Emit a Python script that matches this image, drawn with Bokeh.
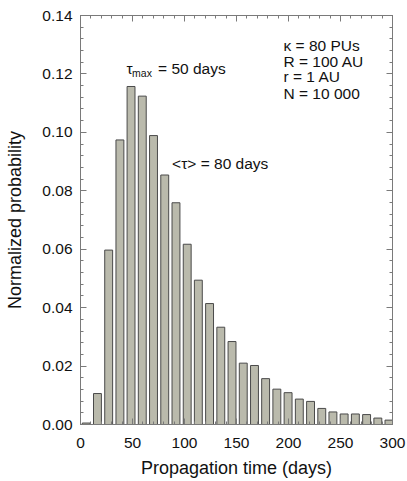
from bokeh.plotting import figure
from bokeh.models import (Range1d, LinearAxis, SingleIntervalTicker, PrintfTickFormatter,
                          Label, ColumnDataSource, CustomLabelingPolicy)
from bokeh.embed import file_html
from bokeh.resources import INLINE

# Histogram of propagation times (28 bins over 0-300 days)
bin_centers = [5.5, 16.3, 27.1, 37.9, 48.6, 59.4, 70.2, 81.0, 91.8, 102.6,
               113.3, 124.1, 134.9, 145.7, 156.5, 167.3, 178.0, 188.8, 199.6, 210.4,
               221.2, 232.0, 242.7, 253.5, 264.3, 275.1, 285.9, 296.6]
probability = [0.0005, 0.0106, 0.0597, 0.0974, 0.1157, 0.1124, 0.0989, 0.0854, 0.0759, 0.0617,
               0.0494, 0.0414, 0.0333, 0.0284, 0.0210, 0.0202, 0.0157, 0.0121, 0.0109, 0.0087,
               0.0079, 0.0055, 0.0043, 0.0036, 0.0036, 0.0034, 0.0022, 0.0015]

x_ticks_interval = 50
y_ticks_interval = 0.02
params_lines = ["\u03ba = 80 PUs", "R = 100 AU", "r = 1 AU", "N = 10 000"]

FONT = "Liberation Sans"
TICK_SIZE = "15.5px"
TITLE_SIZE = "18px"
AXIS_GRAY = "#7a7a7a"
TEXT_COLOR = "#111111"

p = figure(width=407, height=481, output_backend="svg", toolbar_location=None,
           x_range=Range1d(0, 300), y_range=Range1d(0, 0.14),
           min_border_left=80, min_border_right=15, min_border_top=15, min_border_bottom=57,
           x_axis_location=None, y_axis_location=None)
p.grid.visible = False
p.outline_line_color = AXIS_GRAY
p.background_fill_color = "white"
p.border_fill_color = "white"

src = ColumnDataSource(dict(x=bin_centers, top=probability))
p.vbar(x="x", top="top", width=7.6, bottom=0, source=src,
       fill_color="#babaac", line_color="#4a4a4a", line_width=1)


def style_axis(ax, labelled):
    ax.axis_line_color = AXIS_GRAY
    ax.major_tick_line_color = AXIS_GRAY
    ax.minor_tick_line_color = AXIS_GRAY
    ax.major_tick_in = 6
    ax.major_tick_out = 0
    ax.minor_tick_in = 3
    ax.minor_tick_out = 0
    if labelled:
        ax.major_label_text_font = FONT
        ax.major_label_text_font_size = TICK_SIZE
        ax.major_label_text_color = TEXT_COLOR
        ax.axis_label_text_font = FONT
        ax.axis_label_text_font_size = TITLE_SIZE
        ax.axis_label_text_font_style = "normal"
        ax.axis_label_text_color = TEXT_COLOR
    else:
        # mirrored axes: ticks only, no labels
        ax.major_label_policy = CustomLabelingPolicy(code="return []")
        ax.major_label_text_font_size = "0px"
        ax.major_label_standoff = 0


xb = LinearAxis(ticker=SingleIntervalTicker(interval=x_ticks_interval, num_minor_ticks=5),
                axis_label="Propagation time (days)")
style_axis(xb, True)
xb.major_label_standoff = 13
xb.axis_label_standoff = 7
p.add_layout(xb, "below")

yl = LinearAxis(ticker=SingleIntervalTicker(interval=y_ticks_interval, num_minor_ticks=5),
                formatter=PrintfTickFormatter(format="%.2f"),
                axis_label="Normalized probability")
style_axis(yl, True)
yl.major_label_standoff = 8
yl.axis_label_standoff = 14
p.add_layout(yl, "left")

xt = LinearAxis(ticker=SingleIntervalTicker(interval=x_ticks_interval, num_minor_ticks=5))
style_axis(xt, False)
p.add_layout(xt, "above")

yr = LinearAxis(ticker=SingleIntervalTicker(interval=y_ticks_interval, num_minor_ticks=5))
style_axis(yr, False)
p.add_layout(yr, "right")


def add_label(x, y, text, size="15.5px"):
    p.add_layout(Label(x=x, y=y, text=text, text_font=FONT, text_font_size=size,
                       text_color=TEXT_COLOR, text_baseline="alphabetic", text_align="left"))


# Annotations
add_label(44.2, 0.1218, "\u03c4")
add_label(49.6, 0.1204, "max", size="10.5px")
add_label(74.6, 0.1218, "= 50 days")
add_label(88.1, 0.0892, "<\u03c4> = 80 days")

for line, yv in zip(params_lines, [0.1298, 0.1244, 0.1190, 0.1133]):
    add_label(195.2, yv, line)

open("out.html", "w").write(file_html(p, INLINE))
